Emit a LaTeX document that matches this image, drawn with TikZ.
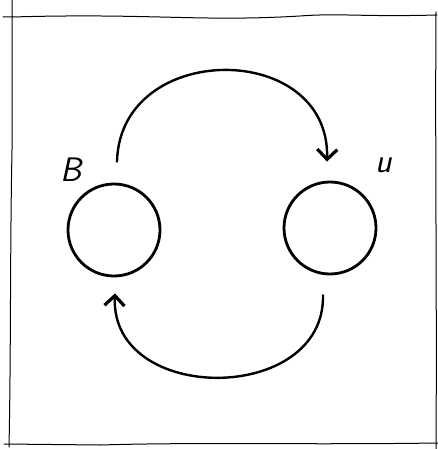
\documentclass[tikz,border=0pt]{standalone}
\usetikzlibrary{arrows.meta,calc}
\begin{document}
\begin{tikzpicture}[x=1pt,y=-1pt,
  state/.style={circle,draw,line width=2.8pt,minimum size=92pt,inner sep=0pt},
  lbl/.style={font=\fontsize{34}{34}\selectfont\sffamily\slshape,inner sep=0pt},
  arc/.style={line width=2.4pt,line cap=round,-{Straight Barb[length=10pt,width=20pt,line width=3.2pt]}},
  frame/.style={line width=1pt,line cap=round}]
\useasboundingbox (0,0) rectangle (438,449);
% frame
\draw[frame] (3,17) -- (12,17) .. controls (150,13) and (200,22) .. (300,16) .. controls (340,13) and (360,17) .. (437,15);
\draw[frame] (12,0) -- (12,150) .. controls (10,250) and (11,350) .. (9,447);
\draw[frame] (4,444) -- (100,445) .. controls (200,442) and (300,445) .. (438,443);
\draw[frame] (436,12) .. controls (435,150) and (437,300) .. (436,449);
% nodes
\node[state] (bl) at (114,230) {};
\node[state] (br) at (330,228) {};
\node[lbl] (lb) at (71,170) {B};
\node[lbl] (lu) at (384,165) {u};
% connectors
\coordinate (ts) at ($(bl.north)+(3,-21)$);
\coordinate (te) at ($(br.north)+(-3,-19)$);
\coordinate (bs) at ($(br.south)+(-7,20)$);
\coordinate (be) at ($(bl.south)+(1,16)$);
\draw[arc] (ts) .. controls (120,40) and (330,40) .. (te);
\draw[arc] (bs) .. controls (325,405) and (110,405) .. (be);
\end{tikzpicture}
\end{document}
